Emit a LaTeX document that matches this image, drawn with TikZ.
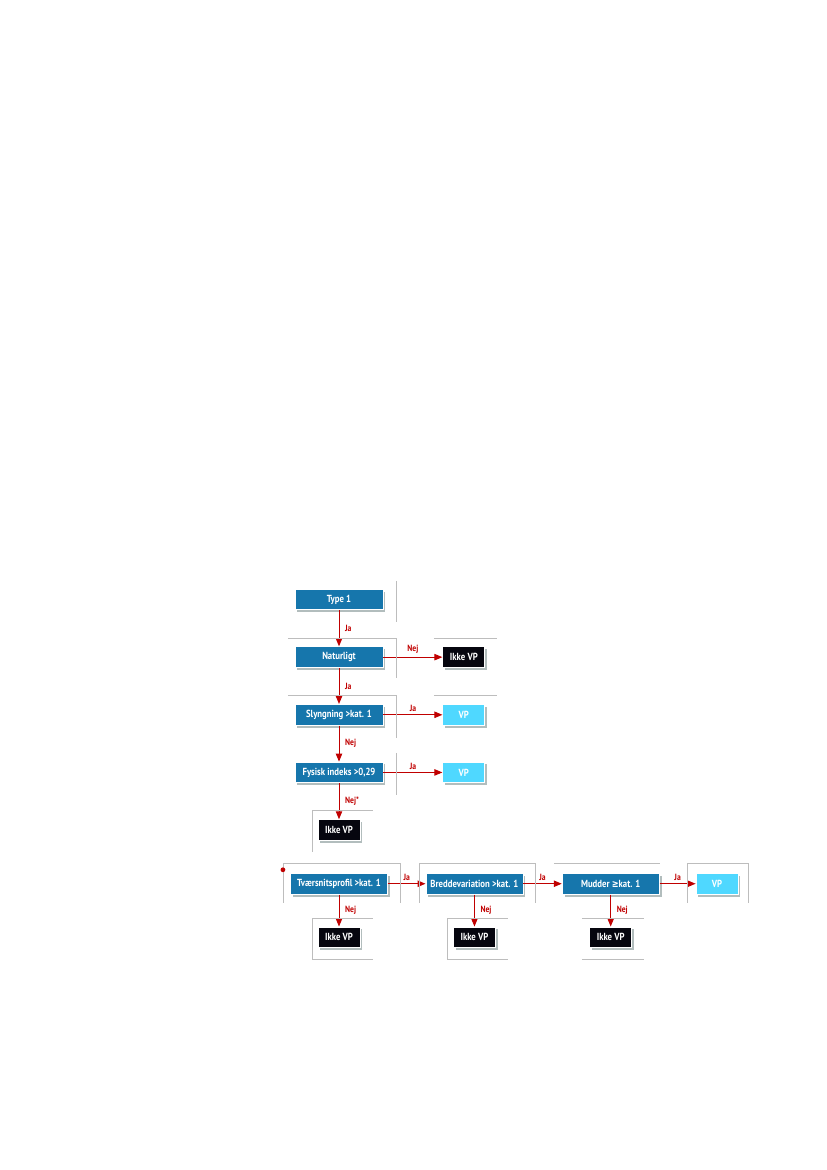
\documentclass[tikz,border=0pt]{standalone}
\usepackage{fontspec}
\newfontfamily\diafont{PT Sans}[FakeStretch=0.85]
\newfontfamily\symfont{DejaVu Sans}[FakeStretch=0.8]
\usetikzlibrary{positioning,arrows.meta,shadows}
\definecolor{VPBlue}{HTML}{1676AC}
\definecolor{VPCyan}{HTML}{4FD8FF}
\definecolor{VPBlack}{HTML}{06060F}
\definecolor{VPRed}{HTML}{C00000}
\definecolor{VPGray}{HTML}{BDBDBD}

\begin{document}
\begin{tikzpicture}[
  node distance=9mm and 14.75mm,
  base/.style={draw=white, line width=0.6pt, text=white, minimum height=5.2mm, inner sep=1pt, align=center, font=\diafont\bfseries\fontsize{7.3}{8}\selectfont, drop shadow={shadow xshift=0.6mm, shadow yshift=-0.6mm, fill=black!70!teal, opacity=0.3}},
  crit/.style={base, fill=VPBlue, minimum width=22mm},
  critwide/.style={base, fill=VPBlue, minimum width=24.25mm},
  vp/.style={base, fill=VPCyan, minimum width=10.5mm},
  nvp/.style={base, fill=VPBlack, minimum width=10.5mm},
  arrow/.style={-{Triangle[length=2mm,width=1.6mm]}, line width=0.7pt, VPRed},
  lbl/.style={text=VPRed, font=\diafont\bfseries\fontsize{6.4}{7}\selectfont, inner sep=1pt},
  frame/.style={VPGray, line width=0.4pt}
]
\useasboundingbox (0,0) rectangle (20.675,-29.25);
% criteria chain
\node[crit] (type) at (8.475,-14.9875) {Type 1};
\node[crit, below=of type] (nat) {Naturligt};
\node[nvp, right=of nat] (natno) {Ikke VP};
\node[crit, below=of nat] (sly) {Slyngning >kat. 1};
\node[vp, right=of sly] (slyyes) {VP};
\node[crit, below=of sly] (fys) {Fysisk indeks >0,29};
\node[vp, right=of fys] (fysyes) {VP};
\node[nvp, below=of fys] (fysno) {Ikke VP};
% bottom row
\node[critwide, below=8mm of fysno] (tvr) {Tværsnitsprofil >kat. 1};
\node[critwide, right=9.4mm of tvr] (bred) {Breddevariation >kat. 1};
\node[critwide, right=9.6mm of bred] (mud) {Mudder {\symfont ≥}kat. 1};
\node[vp, right=9mm of mud] (mudyes) {VP};
\node[nvp, below=8mm of tvr] (tvrno) {Ikke VP};
\node[nvp, below=8mm of bred] (bredno) {Ikke VP};
\node[nvp, below=8mm of mud] (mudno) {Ikke VP};
% connectors
\draw[arrow] (type) -- node[lbl, right=3pt] {Ja} (nat);
\draw[arrow] (nat) -- node[lbl, above=1pt] {Nej} (natno);
\draw[arrow] (nat) -- node[lbl, right=3pt] {Ja} (sly);
\draw[arrow] (sly) -- node[lbl, above=1pt] {Ja} (slyyes);
\draw[arrow] (sly) -- node[lbl, right=3pt] {Nej} (fys);
\draw[arrow] (fys) -- node[lbl, above=1pt] {Ja} (fysyes);
\draw[arrow] (fys) -- node[lbl, right=3pt] {Nej*} (fysno);
\draw[arrow] (tvr) -- node[lbl, above=1pt] {Ja} (bred);
\draw[arrow] (bred) -- node[lbl, above=1pt] {Ja} (mud);
\draw[arrow] (mud) -- node[lbl, above=1pt] {Ja} (mudyes);
\draw[arrow] (tvr) -- node[lbl, right=3pt] {Nej} (tvrno);
\draw[arrow] (bred) -- node[lbl, right=3pt] {Nej} (bredno);
\draw[arrow] (mud) -- node[lbl, right=3pt] {Nej} (mudno);
% grey frame pieces
\begin{scope}[x=0.025cm, y=-0.025cm]
\draw[frame] (396,581) -- (396,622);
\draw[frame] (288,638) -- (396,638) -- (396,678);
\draw[frame] (434,638) -- (497,638);
\draw[frame] (288,695) -- (396,695) -- (396,738);
\draw[frame] (434,695) -- (497,695);
\draw[frame] (396,753) -- (396,795);
\draw[frame] (373,810) -- (312,810) -- (312,852);
\draw[frame] (283,903) -- (283,863) -- (400,863) -- (400,903);
\draw[frame] (419,903) -- (419,863) -- (535,863) -- (535,903);
\draw[frame] (554,863) -- (660,863);
\draw[frame] (687,903) -- (687,863) -- (748,863) -- (748,903);
\draw[frame] (373,919) -- (312,919) -- (312,960) -- (373,960);
\draw[frame] (508,919) -- (447,919) -- (447,960) -- (508,960);
\draw[frame] (582,919) -- (644,919);
\draw[frame] (582,960) -- (644,960);
\fill[VPRed] (283,870) circle (0.6mm);
\end{scope}
\end{tikzpicture}
\end{document}
